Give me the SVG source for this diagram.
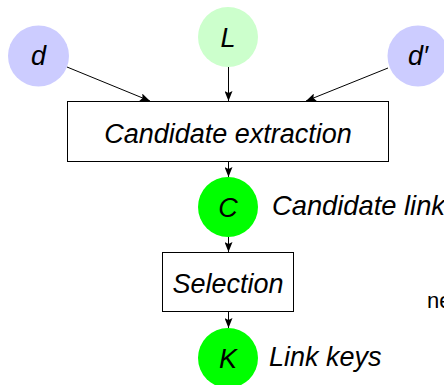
<svg xmlns="http://www.w3.org/2000/svg" width="444" height="385" viewBox="0 0 444 385">
  <style>
    .lbl { font-family: "Liberation Sans", Arial, sans-serif; font-style: italic; font-size: 27px; fill: #000; }
    .box { fill: #fff; stroke: #000; stroke-width: 1; }
    .conn { stroke: #000; stroke-width: 1; fill: none; marker-end: url(#arr); }
    .src { fill: #ccccff; }
    .lk { fill: #ccffcc; }
    .res { fill: #00ff00; }
  </style>
  <defs>
    <marker id="arr" viewBox="0 0 10 8" refX="10" refY="4" markerWidth="10" markerHeight="8" markerUnits="userSpaceOnUse" orient="auto">
      <path d="M0,0 L10,4 L0,8 L2,4 z" fill="#000"/>
    </marker>
  </defs>
  <rect width="444" height="385" fill="#fff"/>
  <g id="connectors">
    <line class="conn" x1="67" y1="67" x2="150" y2="101"/>
    <line class="conn" x1="228.5" y1="67" x2="228.5" y2="101"/>
    <line class="conn" x1="388" y1="68" x2="306" y2="101"/>
    <line class="conn" x1="228.5" y1="162" x2="228.5" y2="177"/>
    <line class="conn" x1="228.5" y1="237" x2="228.5" y2="252"/>
    <line class="conn" x1="228.5" y1="312" x2="228.5" y2="328"/>
  </g>
  <g id="node-d">
    <circle class="src" cx="38.5" cy="56" r="30.5"/>
    <text class="lbl" x="38.5" y="65" text-anchor="middle">d</text>
  </g>
  <g id="node-L">
    <circle class="lk" cx="228" cy="37" r="30"/>
    <text class="lbl" x="228" y="47" text-anchor="middle">L</text>
  </g>
  <g id="node-dprime">
    <circle class="src" cx="418" cy="56" r="30.5"/>
    <text class="lbl" x="418" y="65" text-anchor="middle">d′</text>
  </g>
  <g id="node-extraction">
    <rect class="box" x="67.5" y="101.5" width="321" height="60"/>
    <text class="lbl" x="228" y="142.5" text-anchor="middle">Candidate extraction</text>
  </g>
  <g id="node-C">
    <circle class="res" cx="228" cy="207" r="30"/>
    <text class="lbl" x="228" y="216.5" text-anchor="middle">C</text>
    <text class="lbl" x="272" y="215" style="font-size:27.3px">Candidate links</text>
  </g>
  <g id="node-selection">
    <rect class="box" x="162.5" y="252.5" width="131" height="59"/>
    <text class="lbl" x="228" y="293" text-anchor="middle">Selection</text>
  </g>
  <g id="node-K">
    <circle class="res" cx="228" cy="358" r="30"/>
    <text class="lbl" x="228" y="367.5" text-anchor="middle">K</text>
    <text class="lbl" x="269" y="366">Link keys</text>
  </g>
  <text x="427" y="308" font-family="Liberation Sans, Arial, sans-serif" font-size="22" fill="#000">ne</text>
</svg>
